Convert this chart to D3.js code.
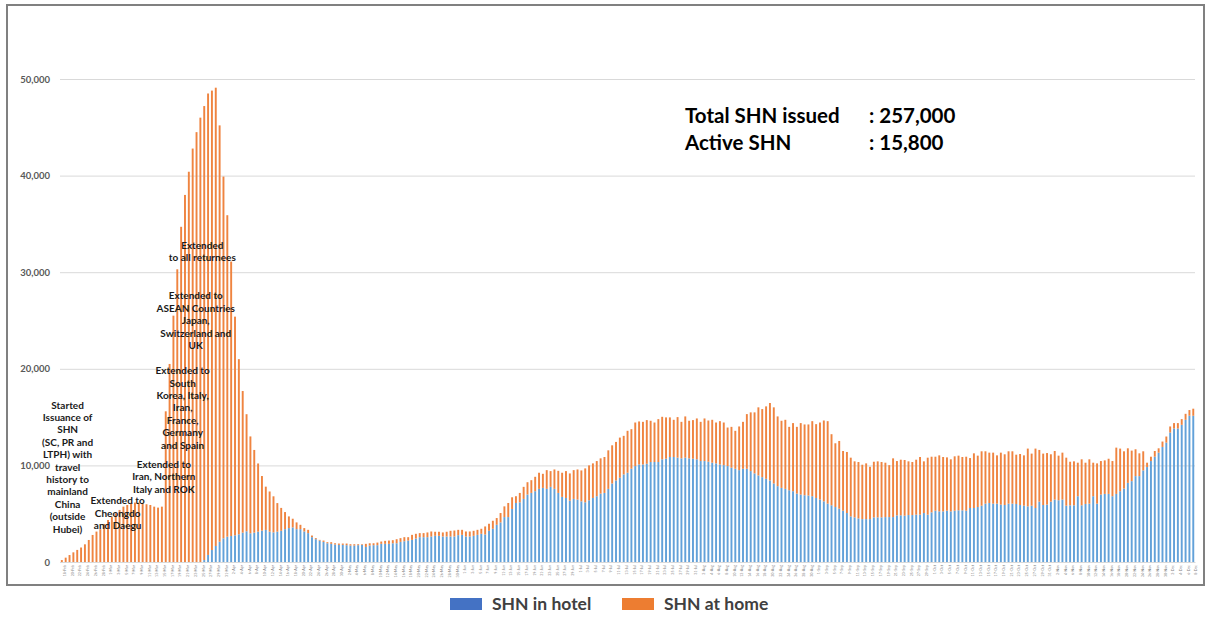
<!DOCTYPE html>
<html>
<head>
<meta charset="utf-8">
<script src="https://cdn.jsdelivr.net/npm/d3@7"></script>
<style>
  body { margin: 0; background: #fff; }
  svg { display: block; }
  .ylab { font-family: Lato, "Open Sans", sans-serif; font-size: 9.5px; font-weight: bold; fill: #595959; }
  .xlab { font-family: Lato, sans-serif; font-size: 3.6px; fill: #7f7f7f; }
  .note { font-family: Lato, "Open Sans", sans-serif; font-size: 10px; font-weight: bold; fill: #1a1a1a; }
  .big { font-family: Lato, "Open Sans", sans-serif; font-size: 20.5px; font-weight: bold; fill: #000; }
  .legend { font-family: Lato, "Open Sans", sans-serif; font-size: 17.5px; font-weight: bold; fill: #404040; }
</style>
</head>
<body>
<div id="vis"></div>
<script>
// daily SHN issued (one bar per day)
var startDay = new Date(2020, 1, 18);
var dayCount = 295;
var dates = d3.timeDay.range(startDay, d3.timeDay.offset(startDay, dayCount));

// top of each stacked bar (hotel + home)
var shnTotal = [
  200,450,720,1000,1250,1500,1830,2280,2800,3150,3400,3940,4350,4700,5040,5390,5730,5900,6080,6150,6150,6080,5980,5900,5730,5630,5730,
  15600,20500,25500,30300,34700,38000,40400,42800,44500,46000,47200,48500,48800,49100,45200,39900,35900,31100,25400,21000,17700,15300,13000,11600,10200,8900,7800,7300,6800,6100,5600,
  5170,4720,4480,4100,3850,3510,3330,2740,2470,2290,2220,2050,2050,1940,1910,1910,1910,1840,1840,1840,1840,1880,1940,1940,2010,2120,2190,2220,2260,2360,2470,2570,2570,2810,2920,2990,2990,3060,3160,3130,3130,3060,3130,3230,3260,3330,3330,3160,3160,3230,3330,3440,3680,3960,4270,4550,5070,5760,
  6110,6700,6810,7150,7780,8260,8470,8820,9240,9130,9510,9410,9580,9440,9240,9410,9170,9510,9580,9480,9690,10000,10210,10450,10730,10870,11560,12080,12430,12880,13060,13580,13750,14440,14550,14510,14690,14620,14440,14790,15030,14970,14970,14720,15000,14510,15070,14620,14690,14860,14510,14860,14650,14720,14440,14580,14440,13920,
  13990,13580,14030,14510,15310,15490,15490,16010,15830,16110,16460,16010,15070,14620,14720,13990,14380,13990,14380,14240,14240,14580,14270,14440,14650,14580,13230,12290,12530,11490,11390,10800,10420,10350,10070,10210,9860,10380,10420,10350,10280,10030,10730,10450,10590,10560,10420,10350,10590,10870,10420,10800,10900,10900,11040,10870,10830,10630,10940,
  11010,10870,10900,10760,11250,11010,11460,11460,11320,11320,11040,11320,11150,11460,11460,11110,11180,11040,11740,11220,11740,11600,11220,11280,11150,11490,11010,11320,10800,10380,10420,10280,10630,10280,10630,10280,10210,10450,10520,10690,10450,11840,11740,11460,11770,11530,11670,11250,11460,10280,10900,11490,11770,12470,12990,14030,14380,14380,14790,15340,15730,15870
];

// SHN in hotel (blue part)
var shnHotel = [
  0,0,0,0,0,0,0,0,0,0,0,0,0,0,0,0,0,0,0,0,0,0,0,0,0,0,0,
  0,0,0,0,0,0,0,0,0,0,
  200,730,1240,1660,2100,2450,2620,2690,2760,2870,3040,3180,2970,3040,3140,3250,3320,3140,3070,3140,3230,
  3400,3510,3580,3400,3400,3160,2990,2570,2360,2220,2080,1940,1880,1810,1770,1770,1740,1700,1700,1740,1770,1560,1700,1740,1740,1880,1880,1880,1940,1940,2080,2150,2220,2290,2430,2570,2570,2570,2640,2710,2710,2640,2640,2640,2640,2780,2810,2640,2640,2710,2810,2920,2850,3230,3440,3850,4100,4650,
  4650,5490,6110,6180,6530,6980,7150,7330,7570,7670,7570,7780,7570,7150,6740,6630,6350,6530,6460,6280,6180,6390,6630,6810,7080,7150,7570,8130,8440,8720,9060,9240,9650,9930,10100,10100,10170,10350,10350,10350,10630,10690,10870,10870,10800,10730,10800,10730,10690,10630,10450,10450,10380,10280,10210,10100,10030,9930,
  9760,9650,9510,9650,9650,9410,9170,8960,8780,8610,8440,8130,7850,7670,7570,7430,7330,7080,6980,6910,6880,6810,6630,6460,6280,6040,5870,5690,5520,5310,5070,4720,4620,4510,4440,4440,4440,4620,4620,4620,4650,4650,4650,4830,4830,4790,4860,4860,4900,4900,5070,4900,5140,5310,5240,5240,5310,5240,5310,
  5350,5350,5310,5590,5590,5690,5830,6040,6110,6040,6040,5940,5900,6040,6040,6010,5900,5830,5760,5830,5590,6250,5900,5940,6250,6460,6390,6460,5830,5870,5870,6810,5870,6010,6040,6810,6040,6980,7050,7050,6810,7050,7330,7600,8190,8370,8890,8890,9480,9830,10450,10900,11320,11910,12360,13400,13820,13820,14200,14720,15140,15140
];

var yTicks = [0, 10000, 20000, 30000, 40000, 50000];
var seriesNames = ["SHN in hotel", "SHN at home"];
var summaryLabels = ["Total SHN issued", "Active SHN"];
var summaryValues = [": 257,000", ": 15,800"];

// policy notes: day index of the note, value at its first line
var notes = [
  {day: 1.5, value: 16250, lines: ["Started", "Issuance of", "SHN", "(SC, PR and", "LTPH) with", "travel", "history to", "mainland", "China", "(outside", "Hubei)"]},
  {day: 14.5, value: 6350, lines: ["Extended to", "Cheongdo", "and Daegu"]},
  {day: 26.5, value: 10100, lines: ["Extended to", "Iran, Northern", "Italy and ROK"]},
  {day: 31.4, value: 19800, lines: ["Extended to", "South", "Korea, Italy,", "Iran,", "France,", "Germany", "and Spain"]},
  {day: 34.8, value: 27550, lines: ["Extended to", "ASEAN Countries", "Japan,", "Switzerland and", "UK"]},
  {day: 36.5, value: 32800, lines: ["Extended", "to all returnees"]}
];

var rows = dates.map(function(d, i) {
  return {date: d, hotel: shnHotel[i], home: shnTotal[i] - shnHotel[i]};
});

var width = 1211, height = 617;
var svg = d3.select("#vis").append("svg")
  .attr("width", width)
  .attr("height", height);

// chart frame
svg.append("rect")
  .attr("x", 7).attr("y", 5)
  .attr("width", 1197).attr("height", 580)
  .attr("fill", "none")
  .attr("stroke", "#808080")
  .attr("stroke-width", 2);

var x = d3.scaleBand()
  .domain(dates)
  .range([60.1, 1195])
  .paddingInner(0.5)
  .paddingOuter(0.2);

var y = d3.scaleLinear()
  .domain([0, 50000])
  .range([562, 79]);

// grid + y labels
var yAxis = d3.axisLeft(y)
  .tickValues(yTicks)
  .tickSize(-(1195 - 60))
  .tickPadding(10)
  .tickFormat(d3.format(","));

var gy = svg.append("g")
  .attr("transform", "translate(60,0)")
  .call(yAxis);
gy.select(".domain").remove();
gy.selectAll("line").attr("stroke", "#d9d9d9").attr("stroke-width", 1);
gy.selectAll("text").attr("class", "ylab").attr("font-family", null).attr("font-size", null);

var stack = d3.stack().keys(["hotel", "home"]);
var layers = stack(rows);
var colors = ["#62a1d9", "#ef8440"];

svg.selectAll("g.layer")
  .data(layers)
  .enter()
  .append("g")
  .attr("class", "layer")
  .attr("fill", function(d, i) { return colors[i]; })
  .selectAll("rect")
  .data(function(d) { return d; })
  .enter()
  .append("rect")
  .attr("x", function(d) { return x(d.data.date); })
  .attr("width", x.bandwidth())
  .attr("y", function(d) { return y(d[1]); })
  .attr("height", function(d) { return y(d[0]) - y(d[1]); });

// category labels, every other day
var fmt = d3.timeFormat("%-d-%b");
var xAxis = d3.axisBottom(x)
  .tickValues(dates.filter(function(d, i) { return i % 2 === 0; }))
  .tickSize(0)
  .tickPadding(3)
  .tickFormat(fmt);

var gx = svg.append("g")
  .attr("transform", "translate(0,562)")
  .call(xAxis);
gx.select(".domain").attr("stroke", "#d9d9d9");
gx.selectAll("text")
  .attr("class", "xlab")
  .attr("font-family", null).attr("font-size", null)
  .attr("transform", "rotate(-90)")
  .attr("text-anchor", "end")
  .attr("dx", "-3px")
  .attr("dy", "1.2px");

// notes
notes.forEach(function(n) {
  var cx = x(dates[0]) + x.bandwidth() / 2 + n.day * x.step();
  var t = svg.append("text")
    .attr("class", "note")
    .attr("text-anchor", "middle")
    .attr("x", cx)
    .attr("y", y(n.value) + 3.5);
  t.selectAll("tspan")
    .data(n.lines)
    .enter()
    .append("tspan")
    .attr("x", cx)
    .attr("dy", function(d, i) { return i === 0 ? 0 : 12.4; })
    .text(function(d) { return d; });
});

// summary text
summaryLabels.forEach(function(s, i) {
  svg.append("text").attr("class", "big")
    .attr("x", 685).attr("y", 123 + i * 27).text(s);
  svg.append("text").attr("class", "big")
    .attr("x", 869).attr("y", 123 + i * 27).text(summaryValues[i]);
});

// legend
var legendColors = ["#4472c4", "#ed7d31"];
var lg = svg.selectAll("g.leg")
  .data(seriesNames)
  .enter()
  .append("g")
  .attr("class", "leg")
  .attr("transform", function(d, i) { return "translate(" + (450 + i * 172) + ",598)"; });
lg.append("rect")
  .attr("width", 32).attr("height", 12)
  .attr("fill", function(d, i) { return legendColors[i]; });
lg.append("text")
  .attr("class", "legend")
  .attr("x", 42).attr("y", 12)
  .text(function(d) { return d; });
</script>
</body>
</html>
